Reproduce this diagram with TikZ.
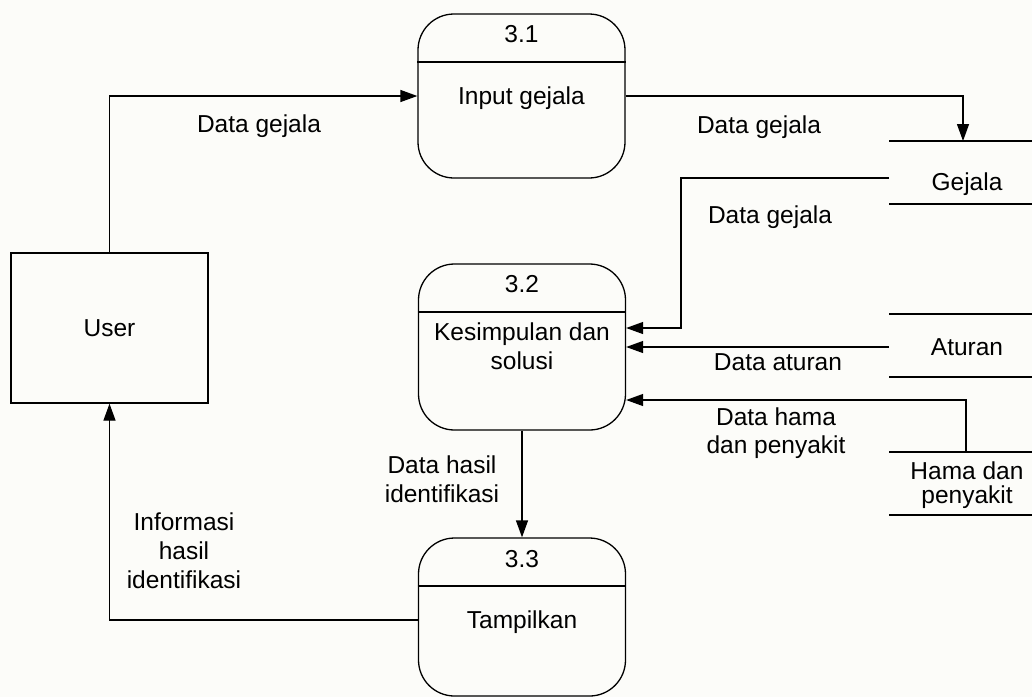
\documentclass[tikz,border=0pt]{standalone}
\usepackage{fontspec}
\setmainfont{Liberation Sans}
\usetikzlibrary{arrows.meta}
\definecolor{paper}{RGB}{252,252,249}
\begin{document}
\begin{tikzpicture}[x=1pt,y=-1pt,
  line/.style={line width=1.3pt, draw=black},
  flow/.style={line, -{Triangle[length=17pt,width=12pt]}},
  proc/.style={line, rounded corners=36pt, minimum width=207pt, inner sep=0pt},
  ent/.style={line, minimum width=197pt, minimum height=150pt, inner sep=0pt},
  txt/.style={font=\fontsize{24.5}{29}\selectfont, inner sep=0pt, anchor=base, align=center},
]
\fill[paper] (0,0) rectangle (1032,697);
\useasboundingbox (0,0) rectangle (1032,697);

% external entity
\node[ent] (user) at (109.5,328) {};
\node[txt] (userlbl) at (109.5,336) {User};

% processes (multi-line labels are placed by the baseline of their last line)
\node[proc, minimum height=164pt] (p1) at (521.5,96) {};
\draw[line] (p1.west |- 0,62) -- (p1.east |- 0,62);
\node[txt] (p1num) at (521.5,42) {3.1};
\node[txt] (p1lbl) at (521.5,104) {Input gejala};

\node[proc, minimum height=166pt] (p2) at (522,347) {};
\draw[line] (p2.west |- 0,312) -- (p2.east |- 0,312);
\node[txt] (p2num) at (522,292) {3.2};
\node[txt] (p2lbl) at (522,369) {Kesimpulan dan\\solusi};

\node[proc, minimum height=158pt] (p3) at (522,617) {};
\draw[line] (p3.west |- 0,586) -- (p3.east |- 0,586);
\node[txt] (p3num) at (522,567) {3.3};
\node[txt] (p3lbl) at (522,628) {Tampilkan};

% data stores
\draw[line] (889,141) -- (1032,141) (889,204) -- (1032,204);
\node[txt] (gejala) at (967,190) {Gejala};
\coordinate (gejTop) at (963,141);
\coordinate (gejLeft) at (889,178);

\draw[line] (889,314) -- (1032,314) (889,377) -- (1032,377);
\node[txt] (aturan) at (967,355) {Aturan};
\coordinate (atLeft) at (889,347);

\draw[line] (889,452) -- (1032,452) (889,515) -- (1032,515);
\node[txt, font=\fontsize{24.5}{24}\selectfont] (hama) at (967,503) {Hama dan\\penyakit};
\coordinate (hamaTop) at (966,452);

% flows
\coordinate (inGej) at (681,328);
\coordinate (inHama) at (966,400);
\coordinate (back) at (0,620);

\draw[flow] (user.north) |- (p1.west);
\draw[flow] (p1.east) -| (gejTop);
\draw[flow] (gejLeft) -| (inGej) -- (p2.east |- inGej);
\draw[flow] (atLeft) -- (p2.east |- atLeft);
\draw[flow] (hamaTop) -- (inHama) -- (p2.east |- inHama);
\draw[flow] (p2.south) -- (p3.north);
\draw[flow] (p3.west |- back) -| (user.south);

% flow labels
\node[txt] (l1) at (259,132) {Data gejala};
\node[txt] (l2) at (759,133) {Data gejala};
\node[txt] (l3) at (770,223) {Data gejala};
\node[txt] (l4) at (778,370) {Data aturan};
\node[txt, font=\fontsize{24.5}{28}\selectfont] (l5) at (776,453) {Data hama\\dan penyakit};
\node[txt] (l6) at (442,502) {Data hasil\\identifikasi};
\node[txt] (l7) at (184,588) {Informasi\\hasil\\identifikasi};
\end{tikzpicture}
\end{document}
